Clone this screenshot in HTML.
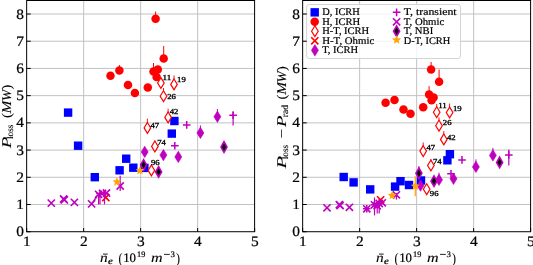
<!DOCTYPE html>
<html><head><meta charset="utf-8"><style>
html,body{margin:0;padding:0;background:#fff;}
svg{display:block;will-change:transform;}
text{text-rendering:geometricPrecision;font-family:"Liberation Serif",serif;fill:#000;stroke:#000;stroke-width:0.3px;}
.tl{font-size:14.4px;stroke-width:0.22px;}
.al{font-size:13.2px;stroke-width:0.1px;}
.lg{font-size:10.2px;stroke-width:0.2px;}
.ann{font-size:7.7px;stroke-width:0.32px;}
.grid{stroke:#c2c2c2;stroke-width:1;}
.tick{stroke:#000;stroke-width:1;}
</style></head><body>
<svg width="533" height="265" viewBox="0 0 533 265">
<rect width="533" height="265" fill="#fff"/>
<line x1="83.65" y1="0.5" x2="83.65" y2="231.72" class="grid"/>
<line x1="140.65" y1="0.5" x2="140.65" y2="231.72" class="grid"/>
<line x1="197.65" y1="0.5" x2="197.65" y2="231.72" class="grid"/>
<line x1="26.65" y1="204.50" x2="254.6" y2="204.50" class="grid"/>
<line x1="26.65" y1="177.29" x2="254.6" y2="177.29" class="grid"/>
<line x1="26.65" y1="150.07" x2="254.6" y2="150.07" class="grid"/>
<line x1="26.65" y1="122.86" x2="254.6" y2="122.86" class="grid"/>
<line x1="26.65" y1="95.65" x2="254.6" y2="95.65" class="grid"/>
<line x1="26.65" y1="68.43" x2="254.6" y2="68.43" class="grid"/>
<line x1="26.65" y1="41.22" x2="254.6" y2="41.22" class="grid"/>
<line x1="26.65" y1="14.00" x2="254.6" y2="14.00" class="grid"/>
<line x1="359.65" y1="0.5" x2="359.65" y2="231.72" class="grid"/>
<line x1="416.65" y1="0.5" x2="416.65" y2="231.72" class="grid"/>
<line x1="473.65" y1="0.5" x2="473.65" y2="231.72" class="grid"/>
<line x1="302.65" y1="204.50" x2="530.6" y2="204.50" class="grid"/>
<line x1="302.65" y1="177.29" x2="530.6" y2="177.29" class="grid"/>
<line x1="302.65" y1="150.07" x2="530.6" y2="150.07" class="grid"/>
<line x1="302.65" y1="122.86" x2="530.6" y2="122.86" class="grid"/>
<line x1="302.65" y1="95.65" x2="530.6" y2="95.65" class="grid"/>
<line x1="302.65" y1="68.43" x2="530.6" y2="68.43" class="grid"/>
<line x1="302.65" y1="41.22" x2="530.6" y2="41.22" class="grid"/>
<line x1="302.65" y1="14.00" x2="530.6" y2="14.00" class="grid"/>
<rect x="63.90" y="108.40" width="8.4" height="8.4" fill="#0000ff"/>
<rect x="73.90" y="141.50" width="8.4" height="8.4" fill="#0000ff"/>
<rect x="90.60" y="173.00" width="8.4" height="8.4" fill="#0000ff"/>
<rect x="115.40" y="166.10" width="8.4" height="8.4" fill="#0000ff"/>
<rect x="122.00" y="154.50" width="8.4" height="8.4" fill="#0000ff"/>
<rect x="129.10" y="163.50" width="8.4" height="8.4" fill="#0000ff"/>
<rect x="140.20" y="163.70" width="8.4" height="8.4" fill="#0000ff"/>
<rect x="170.20" y="116.80" width="8.4" height="8.4" fill="#0000ff"/>
<rect x="167.60" y="129.40" width="8.4" height="8.4" fill="#0000ff"/>
<line x1="155.60" y1="11.60" x2="155.60" y2="18.80" stroke="#ff0000" stroke-width="1.0" stroke-opacity="1.0"/>
<line x1="119.40" y1="65.00" x2="119.40" y2="70.40" stroke="#ff0000" stroke-width="1.0" stroke-opacity="1.0"/>
<line x1="153.50" y1="63.00" x2="153.50" y2="71.50" stroke="#ff0000" stroke-width="1.0" stroke-opacity="1.0"/>
<line x1="163.70" y1="46.00" x2="163.70" y2="58.50" stroke="#ff0000" stroke-width="1.0" stroke-opacity="1.0"/>
<circle cx="155.60" cy="18.80" r="4.25" fill="#ff0000"/>
<circle cx="110.50" cy="75.70" r="4.25" fill="#ff0000"/>
<circle cx="119.40" cy="70.40" r="4.25" fill="#ff0000"/>
<circle cx="128.00" cy="84.90" r="4.25" fill="#ff0000"/>
<circle cx="134.90" cy="93.00" r="4.25" fill="#ff0000"/>
<circle cx="147.80" cy="87.40" r="4.25" fill="#ff0000"/>
<circle cx="153.50" cy="71.50" r="4.25" fill="#ff0000"/>
<circle cx="157.80" cy="69.50" r="4.25" fill="#ff0000"/>
<circle cx="156.60" cy="77.00" r="4.25" fill="#ff0000"/>
<circle cx="163.70" cy="58.50" r="4.25" fill="#ff0000"/>
<line x1="174.00" y1="75.50" x2="174.00" y2="84.40" stroke="#ff0000" stroke-width="1.0" stroke-opacity="0.9"/>
<line x1="163.50" y1="88.00" x2="163.50" y2="96.20" stroke="#ff0000" stroke-width="1.0" stroke-opacity="0.9"/>
<line x1="168.10" y1="108.60" x2="168.10" y2="117.40" stroke="#ff0000" stroke-width="1.0" stroke-opacity="0.9"/>
<line x1="147.40" y1="118.60" x2="147.40" y2="127.90" stroke="#ff0000" stroke-width="1.0" stroke-opacity="0.9"/>
<line x1="154.90" y1="140.80" x2="154.90" y2="146.40" stroke="#ff0000" stroke-width="1.0" stroke-opacity="0.9"/>
<path d="M160.90 77.60L164.20 83.00L160.90 88.40L157.60 83.00Z" fill="#fff" stroke="#ff0000" stroke-width="1.2"/>
<path d="M174.00 79.00L177.30 84.40L174.00 89.80L170.70 84.40Z" fill="#fff" stroke="#ff0000" stroke-width="1.2"/>
<path d="M163.50 90.80L166.80 96.20L163.50 101.60L160.20 96.20Z" fill="#fff" stroke="#ff0000" stroke-width="1.2"/>
<path d="M168.10 112.00L171.40 117.40L168.10 122.80L164.80 117.40Z" fill="#fff" stroke="#ff0000" stroke-width="1.2"/>
<path d="M147.40 122.50L150.70 127.90L147.40 133.30L144.10 127.90Z" fill="#fff" stroke="#ff0000" stroke-width="1.2"/>
<path d="M154.90 141.00L158.20 146.40L154.90 151.80L151.60 146.40Z" fill="#fff" stroke="#ff0000" stroke-width="1.2"/>
<path d="M151.40 165.00L154.70 170.40L151.40 175.80L148.10 170.40Z" fill="#fff" stroke="#ff0000" stroke-width="1.2"/>
<path d="M102.20 193.90L109.40 201.10M102.20 201.10L109.40 193.90" stroke="#ff0000" stroke-width="1.6" fill="none"/>
<line x1="217.40" y1="109.00" x2="217.40" y2="116.70" stroke="#bf00bf" stroke-width="1.0" stroke-opacity="1.0"/>
<line x1="200.40" y1="125.40" x2="200.40" y2="132.90" stroke="#bf00bf" stroke-width="1.0" stroke-opacity="1.0"/>
<path d="M217.40 111.00L220.90 116.70L217.40 122.40L213.90 116.70Z" fill="#bf00bf" stroke="#bf00bf" stroke-width="0.6"/>
<path d="M200.40 127.20L203.90 132.90L200.40 138.60L196.90 132.90Z" fill="#bf00bf" stroke="#bf00bf" stroke-width="0.6"/>
<path d="M144.70 146.20L148.20 151.90L144.70 157.60L141.20 151.90Z" fill="#bf00bf" stroke="#bf00bf" stroke-width="0.6"/>
<path d="M163.40 149.40L166.90 155.10L163.40 160.80L159.90 155.10Z" fill="#bf00bf" stroke="#bf00bf" stroke-width="0.6"/>
<path d="M178.30 151.20L181.80 156.90L178.30 162.60L174.80 156.90Z" fill="#bf00bf" stroke="#bf00bf" stroke-width="0.6"/>
<line x1="233.10" y1="111.40" x2="233.10" y2="115.20" stroke="#bf00bf" stroke-width="1.2" stroke-opacity="1.0"/>
<line x1="233.10" y1="115.20" x2="233.10" y2="125.60" stroke="#bf00bf" stroke-width="1.2" stroke-opacity="1.0"/>
<line x1="100.00" y1="193.50" x2="100.00" y2="204.30" stroke="#bf00bf" stroke-width="1.2" stroke-opacity="1.0"/>
<line x1="104.50" y1="193.80" x2="104.50" y2="204.30" stroke="#bf00bf" stroke-width="1.2" stroke-opacity="1.0"/>
<path d="M182.90 124.90H190.50M186.70 121.10V128.70" stroke="#bf00bf" stroke-width="1.5" fill="none"/>
<path d="M171.00 145.80H178.60M174.80 142.00V149.60" stroke="#bf00bf" stroke-width="1.5" fill="none"/>
<path d="M229.30 115.20H236.90M233.10 111.40V119.00" stroke="#bf00bf" stroke-width="1.5" fill="none"/>
<path d="M96.20 193.50H103.80M100.00 189.70V197.30" stroke="#bf00bf" stroke-width="1.5" fill="none"/>
<path d="M100.70 193.80H108.30M104.50 190.00V197.60" stroke="#bf00bf" stroke-width="1.5" fill="none"/>
<line x1="120.20" y1="175.80" x2="120.20" y2="186.00" stroke="#bf00bf" stroke-width="1.2" stroke-opacity="1.0"/>
<line x1="120.20" y1="186.00" x2="120.20" y2="191.00" stroke="#bf00bf" stroke-width="1.2" stroke-opacity="1.0"/>
<line x1="98.60" y1="194.30" x2="98.60" y2="204.60" stroke="#bf00bf" stroke-width="1.2" stroke-opacity="1.0"/>
<path d="M47.70 199.50L54.90 206.70M47.70 206.70L54.90 199.50" stroke="#bf00bf" stroke-width="1.6" fill="none"/>
<path d="M60.00 195.40L67.20 202.60M60.00 202.60L67.20 195.40" stroke="#bf00bf" stroke-width="1.6" fill="none"/>
<path d="M60.80 196.30L68.00 203.50M60.80 203.50L68.00 196.30" stroke="#bf00bf" stroke-width="1.6" fill="none"/>
<path d="M70.80 198.80L78.00 206.00M70.80 206.00L78.00 198.80" stroke="#bf00bf" stroke-width="1.6" fill="none"/>
<path d="M88.00 200.30L95.20 207.50M88.00 207.50L95.20 200.30" stroke="#bf00bf" stroke-width="1.6" fill="none"/>
<path d="M116.60 182.40L123.80 189.60M116.60 189.60L123.80 182.40" stroke="#bf00bf" stroke-width="1.6" fill="none"/>
<path d="M95.00 190.70L102.20 197.90M95.00 197.90L102.20 190.70" stroke="#bf00bf" stroke-width="1.6" fill="none"/>
<path d="M98.90 189.70L106.10 196.90M98.90 196.90L106.10 189.70" stroke="#bf00bf" stroke-width="1.6" fill="none"/>
<path d="M102.90 189.40L110.10 196.60M102.90 196.60L110.10 189.40" stroke="#bf00bf" stroke-width="1.6" fill="none"/>
<line x1="91.6" y1="203.9" x2="97.0" y2="196.5" stroke="#bf00bf" stroke-width="1.4"/>
<path d="M143.60 159.60L146.60 164.90L143.60 170.20L140.60 164.90Z" fill="#000" stroke="#bf00bf" stroke-width="1.6"/>
<path d="M158.60 166.60L161.60 171.90L158.60 177.20L155.60 171.90Z" fill="#000" stroke="#bf00bf" stroke-width="1.6"/>
<path d="M224.00 141.70L227.00 147.00L224.00 152.30L221.00 147.00Z" fill="#000" stroke="#bf00bf" stroke-width="1.6"/>
<polygon points="116.90,177.20 118.14,180.19 121.37,180.45 118.91,182.55 119.66,185.70 116.90,184.02 114.14,185.70 114.89,182.55 112.43,180.45 115.66,180.19" fill="#ffa500"/>
<polygon points="140.00,165.90 141.24,168.89 144.47,169.15 142.01,171.25 142.76,174.40 140.00,172.72 137.24,174.40 137.99,171.25 135.53,169.15 138.76,168.89" fill="#ffa500"/>
<text x="162.50" y="79.70" class="ann" textLength="8.7" lengthAdjust="spacingAndGlyphs">11</text>
<text x="177.10" y="82.40" class="ann" textLength="8.7" lengthAdjust="spacingAndGlyphs">19</text>
<text x="167.20" y="98.60" class="ann" textLength="8.7" lengthAdjust="spacingAndGlyphs">26</text>
<text x="169.70" y="113.80" class="ann" textLength="8.7" lengthAdjust="spacingAndGlyphs">42</text>
<text x="150.50" y="127.50" class="ann" textLength="8.7" lengthAdjust="spacingAndGlyphs">47</text>
<text x="157.20" y="144.90" class="ann" textLength="8.7" lengthAdjust="spacingAndGlyphs">74</text>
<text x="150.90" y="164.60" class="ann" textLength="8.7" lengthAdjust="spacingAndGlyphs">96</text>
<rect x="339.50" y="172.80" width="8.4" height="8.4" fill="#0000ff"/>
<rect x="349.40" y="178.20" width="8.4" height="8.4" fill="#0000ff"/>
<rect x="366.00" y="185.20" width="8.4" height="8.4" fill="#0000ff"/>
<rect x="390.90" y="182.40" width="8.4" height="8.4" fill="#0000ff"/>
<rect x="396.30" y="177.00" width="8.4" height="8.4" fill="#0000ff"/>
<rect x="404.80" y="180.80" width="8.4" height="8.4" fill="#0000ff"/>
<rect x="416.80" y="176.30" width="8.4" height="8.4" fill="#0000ff"/>
<rect x="445.70" y="150.00" width="8.4" height="8.4" fill="#0000ff"/>
<rect x="443.20" y="156.10" width="8.4" height="8.4" fill="#0000ff"/>
<line x1="429.10" y1="86.20" x2="429.10" y2="94.40" stroke="#ff0000" stroke-width="1.0" stroke-opacity="1.0"/>
<line x1="431.10" y1="62.00" x2="431.10" y2="69.50" stroke="#ff0000" stroke-width="1.0" stroke-opacity="1.0"/>
<line x1="439.10" y1="69.50" x2="439.10" y2="81.70" stroke="#ff0000" stroke-width="1.0" stroke-opacity="1.0"/>
<circle cx="385.60" cy="102.80" r="4.25" fill="#ff0000"/>
<circle cx="394.50" cy="99.90" r="4.25" fill="#ff0000"/>
<circle cx="403.50" cy="109.50" r="4.25" fill="#ff0000"/>
<circle cx="410.50" cy="113.80" r="4.25" fill="#ff0000"/>
<circle cx="423.20" cy="107.30" r="4.25" fill="#ff0000"/>
<circle cx="429.10" cy="94.40" r="4.25" fill="#ff0000"/>
<circle cx="433.60" cy="97.40" r="4.25" fill="#ff0000"/>
<circle cx="431.60" cy="100.20" r="4.25" fill="#ff0000"/>
<circle cx="431.10" cy="69.50" r="4.25" fill="#ff0000"/>
<circle cx="439.10" cy="81.70" r="4.25" fill="#ff0000"/>
<line x1="436.70" y1="104.00" x2="436.70" y2="112.20" stroke="#ff0000" stroke-width="1.0" stroke-opacity="0.9"/>
<line x1="449.60" y1="103.50" x2="449.60" y2="112.50" stroke="#ff0000" stroke-width="1.0" stroke-opacity="0.9"/>
<line x1="439.00" y1="117.30" x2="439.00" y2="125.70" stroke="#ff0000" stroke-width="1.0" stroke-opacity="0.9"/>
<line x1="443.80" y1="131.00" x2="443.80" y2="139.40" stroke="#ff0000" stroke-width="1.0" stroke-opacity="0.9"/>
<line x1="423.20" y1="142.40" x2="423.20" y2="151.10" stroke="#ff0000" stroke-width="1.0" stroke-opacity="0.9"/>
<line x1="430.90" y1="159.00" x2="430.90" y2="165.50" stroke="#ff0000" stroke-width="1.0" stroke-opacity="0.9"/>
<path d="M436.70 106.80L440.00 112.20L436.70 117.60L433.40 112.20Z" fill="#fff" stroke="#ff0000" stroke-width="1.2"/>
<path d="M449.60 107.10L452.90 112.50L449.60 117.90L446.30 112.50Z" fill="#fff" stroke="#ff0000" stroke-width="1.2"/>
<path d="M439.00 120.30L442.30 125.70L439.00 131.10L435.70 125.70Z" fill="#fff" stroke="#ff0000" stroke-width="1.2"/>
<path d="M443.80 134.00L447.10 139.40L443.80 144.80L440.50 139.40Z" fill="#fff" stroke="#ff0000" stroke-width="1.2"/>
<path d="M423.20 145.70L426.50 151.10L423.20 156.50L419.90 151.10Z" fill="#fff" stroke="#ff0000" stroke-width="1.2"/>
<path d="M430.90 160.10L434.20 165.50L430.90 170.90L427.60 165.50Z" fill="#fff" stroke="#ff0000" stroke-width="1.2"/>
<path d="M426.70 183.80L430.00 189.20L426.70 194.60L423.40 189.20Z" fill="#fff" stroke="#ff0000" stroke-width="1.2"/>
<path d="M377.00 196.20L384.20 203.40M377.00 203.40L384.20 196.20" stroke="#ff0000" stroke-width="1.6" fill="none"/>
<line x1="439.00" y1="172.60" x2="439.00" y2="179.80" stroke="#bf00bf" stroke-width="1.0" stroke-opacity="1.0"/>
<line x1="475.90" y1="159.40" x2="475.90" y2="166.90" stroke="#bf00bf" stroke-width="1.0" stroke-opacity="1.0"/>
<line x1="492.90" y1="147.90" x2="492.90" y2="155.40" stroke="#bf00bf" stroke-width="1.0" stroke-opacity="1.0"/>
<path d="M420.50 179.90L424.00 185.60L420.50 191.30L417.00 185.60Z" fill="#bf00bf" stroke="#bf00bf" stroke-width="0.6"/>
<path d="M439.00 174.10L442.50 179.80L439.00 185.50L435.50 179.80Z" fill="#bf00bf" stroke="#bf00bf" stroke-width="0.6"/>
<path d="M453.50 173.00L457.00 178.70L453.50 184.40L450.00 178.70Z" fill="#bf00bf" stroke="#bf00bf" stroke-width="0.6"/>
<path d="M475.90 161.20L479.40 166.90L475.90 172.60L472.40 166.90Z" fill="#bf00bf" stroke="#bf00bf" stroke-width="0.6"/>
<path d="M492.90 149.70L496.40 155.40L492.90 161.10L489.40 155.40Z" fill="#bf00bf" stroke="#bf00bf" stroke-width="0.6"/>
<line x1="508.80" y1="149.40" x2="508.80" y2="154.90" stroke="#bf00bf" stroke-width="1.2" stroke-opacity="1.0"/>
<line x1="508.80" y1="154.90" x2="508.80" y2="165.40" stroke="#bf00bf" stroke-width="1.2" stroke-opacity="1.0"/>
<line x1="374.50" y1="197.50" x2="374.50" y2="204.80" stroke="#bf00bf" stroke-width="1.2" stroke-opacity="1.0"/>
<line x1="374.50" y1="204.80" x2="374.50" y2="215.40" stroke="#bf00bf" stroke-width="1.2" stroke-opacity="1.0"/>
<line x1="379.20" y1="203.50" x2="379.20" y2="213.40" stroke="#bf00bf" stroke-width="1.2" stroke-opacity="1.0"/>
<path d="M458.20 159.90H465.80M462.00 156.10V163.70" stroke="#bf00bf" stroke-width="1.5" fill="none"/>
<path d="M447.20 173.70H454.80M451.00 169.90V177.50" stroke="#bf00bf" stroke-width="1.5" fill="none"/>
<path d="M505.00 154.90H512.60M508.80 151.10V158.70" stroke="#bf00bf" stroke-width="1.5" fill="none"/>
<path d="M363.00 208.80H370.60M366.80 205.00V212.60" stroke="#bf00bf" stroke-width="1.5" fill="none"/>
<path d="M370.70 204.80H378.30M374.50 201.00V208.60" stroke="#bf00bf" stroke-width="1.5" fill="none"/>
<path d="M375.40 203.50H383.00M379.20 199.70V207.30" stroke="#bf00bf" stroke-width="1.5" fill="none"/>
<line x1="396.40" y1="192.90" x2="396.40" y2="194.80" stroke="#bf00bf" stroke-width="1.2" stroke-opacity="1.0"/>
<line x1="396.40" y1="194.80" x2="396.40" y2="199.50" stroke="#bf00bf" stroke-width="1.2" stroke-opacity="1.0"/>
<line x1="377.20" y1="205.80" x2="377.20" y2="213.40" stroke="#bf00bf" stroke-width="1.2" stroke-opacity="1.0"/>
<path d="M323.40 204.20L330.60 211.40M323.40 211.40L330.60 204.20" stroke="#bf00bf" stroke-width="1.6" fill="none"/>
<path d="M335.70 201.00L342.90 208.20M335.70 208.20L342.90 201.00" stroke="#bf00bf" stroke-width="1.6" fill="none"/>
<path d="M336.50 201.90L343.70 209.10M336.50 209.10L343.70 201.90" stroke="#bf00bf" stroke-width="1.6" fill="none"/>
<path d="M345.80 203.70L353.00 210.90M345.80 210.90L353.00 203.70" stroke="#bf00bf" stroke-width="1.6" fill="none"/>
<path d="M363.20 205.20L370.40 212.40M363.20 212.40L370.40 205.20" stroke="#bf00bf" stroke-width="1.6" fill="none"/>
<path d="M392.80 191.20L400.00 198.40M392.80 198.40L400.00 191.20" stroke="#bf00bf" stroke-width="1.6" fill="none"/>
<path d="M370.90 201.20L378.10 208.40M370.90 208.40L378.10 201.20" stroke="#bf00bf" stroke-width="1.6" fill="none"/>
<path d="M375.60 199.90L382.80 207.10M375.60 207.10L382.80 199.90" stroke="#bf00bf" stroke-width="1.6" fill="none"/>
<path d="M378.70 199.20L385.90 206.40M378.70 206.40L385.90 199.20" stroke="#bf00bf" stroke-width="1.6" fill="none"/>
<path d="M373.60 202.20L380.80 209.40M373.60 209.40L380.80 202.20" stroke="#bf00bf" stroke-width="1.6" fill="none"/>
<line x1="418.90" y1="166.00" x2="418.90" y2="173.30" stroke="#bf00bf" stroke-width="1.0" stroke-opacity="1.0"/>
<path d="M418.90 168.00L421.90 173.30L418.90 178.60L415.90 173.30Z" fill="#000" stroke="#bf00bf" stroke-width="1.6"/>
<path d="M434.00 175.90L437.00 181.20L434.00 186.50L431.00 181.20Z" fill="#000" stroke="#bf00bf" stroke-width="1.6"/>
<path d="M499.60 157.10L502.60 162.40L499.60 167.70L496.60 162.40Z" fill="#000" stroke="#bf00bf" stroke-width="1.6"/>
<line x1="415.30" y1="176.20" x2="415.30" y2="186.20" stroke="#ffa500" stroke-width="1.2" stroke-opacity="1.0"/>
<line x1="415.30" y1="186.20" x2="415.30" y2="196.20" stroke="#ffa500" stroke-width="1.2" stroke-opacity="1.0"/>
<polygon points="392.20,190.80 393.44,193.79 396.67,194.05 394.21,196.15 394.96,199.30 392.20,197.62 389.44,199.30 390.19,196.15 387.73,194.05 390.96,193.79" fill="#ffa500"/>
<polygon points="415.30,181.50 416.54,184.49 419.77,184.75 417.31,186.85 418.06,190.00 415.30,188.31 412.54,190.00 413.29,186.85 410.83,184.75 414.06,184.49" fill="#ffa500"/>
<text x="438.20" y="108.20" class="ann" textLength="8.7" lengthAdjust="spacingAndGlyphs">11</text>
<text x="453.00" y="110.60" class="ann" textLength="8.7" lengthAdjust="spacingAndGlyphs">19</text>
<text x="442.80" y="125.40" class="ann" textLength="8.7" lengthAdjust="spacingAndGlyphs">26</text>
<text x="447.00" y="140.40" class="ann" textLength="8.7" lengthAdjust="spacingAndGlyphs">42</text>
<text x="426.40" y="150.00" class="ann" textLength="8.7" lengthAdjust="spacingAndGlyphs">47</text>
<text x="432.90" y="163.80" class="ann" textLength="8.7" lengthAdjust="spacingAndGlyphs">74</text>
<text x="429.80" y="196.10" class="ann" textLength="8.7" lengthAdjust="spacingAndGlyphs">96</text>
<rect x="306.6" y="4.5" width="153.9" height="54.0" rx="2.6" ry="2.6" fill="#fff" fill-opacity="0.8" stroke="#d4d4d4" stroke-width="1"/>
<rect x="310.50" y="8.15" width="8.4" height="8.4" fill="#0000ff"/>
<circle cx="314.70" cy="21.80" r="4.25" fill="#ff0000"/>
<path d="M314.90 25.80L318.20 31.20L314.90 36.60L311.60 31.20Z" fill="#fff" stroke="#ff0000" stroke-width="1.2"/>
<path d="M311.20 37.20L318.40 44.40M311.20 44.40L318.40 37.20" stroke="#ff0000" stroke-width="1.6" fill="none"/>
<path d="M314.90 44.60L318.40 50.30L314.90 56.00L311.40 50.30Z" fill="#bf00bf" stroke="#bf00bf" stroke-width="0.6"/>
<path d="M392.80 12.35H400.40M396.60 8.55V16.15" stroke="#bf00bf" stroke-width="1.5" fill="none"/>
<path d="M393.00 18.20L400.20 25.40M393.00 25.40L400.20 18.20" stroke="#bf00bf" stroke-width="1.6" fill="none"/>
<path d="M396.60 25.90L399.60 31.20L396.60 36.50L393.60 31.20Z" fill="#000" stroke="#bf00bf" stroke-width="1.6"/>
<polygon points="396.60,35.30 397.84,38.29 401.07,38.55 398.61,40.65 399.36,43.80 396.60,42.12 393.84,43.80 394.59,40.65 392.13,38.55 395.36,38.29" fill="#ffa500"/>
<text x="322.2" y="15.30" class="lg" textLength="37.6" lengthAdjust="spacingAndGlyphs">D, ICRH</text>
<text x="322.2" y="24.80" class="lg" textLength="38.0" lengthAdjust="spacingAndGlyphs">H, ICRH</text>
<text x="322.2" y="34.30" class="lg" textLength="47.0" lengthAdjust="spacingAndGlyphs">H-T, ICRH</text>
<text x="322.2" y="43.80" class="lg" textLength="52.0" lengthAdjust="spacingAndGlyphs">H-T, Ohmic</text>
<text x="322.2" y="53.30" class="lg" textLength="36.0" lengthAdjust="spacingAndGlyphs">T, ICRH</text>
<text x="403.8" y="15.30" class="lg" textLength="52.8" lengthAdjust="spacingAndGlyphs">T, transient</text>
<text x="403.8" y="24.80" class="lg" textLength="40.4" lengthAdjust="spacingAndGlyphs">T, Ohmic</text>
<text x="403.8" y="34.30" class="lg" textLength="29.4" lengthAdjust="spacingAndGlyphs">T, NBI</text>
<text x="403.8" y="43.80" class="lg" textLength="46.4" lengthAdjust="spacingAndGlyphs">D-T, ICRH</text>
<line x1="26.65" y1="231.72" x2="30.75" y2="231.72" class="tick"/>
<line x1="26.65" y1="204.50" x2="30.75" y2="204.50" class="tick"/>
<line x1="26.65" y1="177.29" x2="30.75" y2="177.29" class="tick"/>
<line x1="26.65" y1="150.07" x2="30.75" y2="150.07" class="tick"/>
<line x1="26.65" y1="122.86" x2="30.75" y2="122.86" class="tick"/>
<line x1="26.65" y1="95.65" x2="30.75" y2="95.65" class="tick"/>
<line x1="26.65" y1="68.43" x2="30.75" y2="68.43" class="tick"/>
<line x1="26.65" y1="41.22" x2="30.75" y2="41.22" class="tick"/>
<line x1="26.65" y1="14.00" x2="30.75" y2="14.00" class="tick"/>
<line x1="26.65" y1="231.72" x2="26.65" y2="228.02" class="tick"/>
<line x1="83.65" y1="231.72" x2="83.65" y2="228.02" class="tick"/>
<line x1="140.65" y1="231.72" x2="140.65" y2="228.02" class="tick"/>
<line x1="197.65" y1="231.72" x2="197.65" y2="228.02" class="tick"/>
<line x1="254.65" y1="231.72" x2="254.65" y2="228.02" class="tick"/>
<rect x="26.65" y="0.5" width="227.95" height="231.22" fill="none" stroke="#000" stroke-width="1"/>
<text x="24.05" y="236.22" class="tl" text-anchor="end" textLength="7.7" lengthAdjust="spacingAndGlyphs">0</text>
<text x="24.05" y="209.00" class="tl" text-anchor="end" textLength="7.7" lengthAdjust="spacingAndGlyphs">1</text>
<text x="24.05" y="181.79" class="tl" text-anchor="end" textLength="7.7" lengthAdjust="spacingAndGlyphs">2</text>
<text x="24.05" y="154.57" class="tl" text-anchor="end" textLength="7.7" lengthAdjust="spacingAndGlyphs">3</text>
<text x="24.05" y="127.36" class="tl" text-anchor="end" textLength="7.7" lengthAdjust="spacingAndGlyphs">4</text>
<text x="24.05" y="100.15" class="tl" text-anchor="end" textLength="7.7" lengthAdjust="spacingAndGlyphs">5</text>
<text x="24.05" y="72.93" class="tl" text-anchor="end" textLength="7.7" lengthAdjust="spacingAndGlyphs">6</text>
<text x="24.05" y="45.72" class="tl" text-anchor="end" textLength="7.7" lengthAdjust="spacingAndGlyphs">7</text>
<text x="24.05" y="18.50" class="tl" text-anchor="end" textLength="7.7" lengthAdjust="spacingAndGlyphs">8</text>
<text x="26.95" y="245.8" class="tl" text-anchor="middle" textLength="7.7" lengthAdjust="spacingAndGlyphs">1</text>
<text x="83.95" y="245.8" class="tl" text-anchor="middle" textLength="7.7" lengthAdjust="spacingAndGlyphs">2</text>
<text x="140.95" y="245.8" class="tl" text-anchor="middle" textLength="7.7" lengthAdjust="spacingAndGlyphs">3</text>
<text x="197.95" y="245.8" class="tl" text-anchor="middle" textLength="7.7" lengthAdjust="spacingAndGlyphs">4</text>
<text x="254.95" y="245.8" class="tl" text-anchor="middle" textLength="7.7" lengthAdjust="spacingAndGlyphs">5</text>
<line x1="302.65" y1="231.72" x2="306.75" y2="231.72" class="tick"/>
<line x1="302.65" y1="204.50" x2="306.75" y2="204.50" class="tick"/>
<line x1="302.65" y1="177.29" x2="306.75" y2="177.29" class="tick"/>
<line x1="302.65" y1="150.07" x2="306.75" y2="150.07" class="tick"/>
<line x1="302.65" y1="122.86" x2="306.75" y2="122.86" class="tick"/>
<line x1="302.65" y1="95.65" x2="306.75" y2="95.65" class="tick"/>
<line x1="302.65" y1="68.43" x2="306.75" y2="68.43" class="tick"/>
<line x1="302.65" y1="41.22" x2="306.75" y2="41.22" class="tick"/>
<line x1="302.65" y1="14.00" x2="306.75" y2="14.00" class="tick"/>
<line x1="302.65" y1="231.72" x2="302.65" y2="228.02" class="tick"/>
<line x1="359.65" y1="231.72" x2="359.65" y2="228.02" class="tick"/>
<line x1="416.65" y1="231.72" x2="416.65" y2="228.02" class="tick"/>
<line x1="473.65" y1="231.72" x2="473.65" y2="228.02" class="tick"/>
<line x1="530.65" y1="231.72" x2="530.65" y2="228.02" class="tick"/>
<rect x="302.65" y="0.5" width="227.95000000000005" height="231.22" fill="none" stroke="#000" stroke-width="1"/>
<text x="300.05" y="236.22" class="tl" text-anchor="end" textLength="7.7" lengthAdjust="spacingAndGlyphs">0</text>
<text x="300.05" y="209.00" class="tl" text-anchor="end" textLength="7.7" lengthAdjust="spacingAndGlyphs">1</text>
<text x="300.05" y="181.79" class="tl" text-anchor="end" textLength="7.7" lengthAdjust="spacingAndGlyphs">2</text>
<text x="300.05" y="154.57" class="tl" text-anchor="end" textLength="7.7" lengthAdjust="spacingAndGlyphs">3</text>
<text x="300.05" y="127.36" class="tl" text-anchor="end" textLength="7.7" lengthAdjust="spacingAndGlyphs">4</text>
<text x="300.05" y="100.15" class="tl" text-anchor="end" textLength="7.7" lengthAdjust="spacingAndGlyphs">5</text>
<text x="300.05" y="72.93" class="tl" text-anchor="end" textLength="7.7" lengthAdjust="spacingAndGlyphs">6</text>
<text x="300.05" y="45.72" class="tl" text-anchor="end" textLength="7.7" lengthAdjust="spacingAndGlyphs">7</text>
<text x="300.05" y="18.50" class="tl" text-anchor="end" textLength="7.7" lengthAdjust="spacingAndGlyphs">8</text>
<text x="302.95" y="245.8" class="tl" text-anchor="middle" textLength="7.7" lengthAdjust="spacingAndGlyphs">1</text>
<text x="359.95" y="245.8" class="tl" text-anchor="middle" textLength="7.7" lengthAdjust="spacingAndGlyphs">2</text>
<text x="416.95" y="245.8" class="tl" text-anchor="middle" textLength="7.7" lengthAdjust="spacingAndGlyphs">3</text>
<text x="473.95" y="245.8" class="tl" text-anchor="middle" textLength="7.7" lengthAdjust="spacingAndGlyphs">4</text>
<text x="530.95" y="245.8" class="tl" text-anchor="middle" textLength="7.7" lengthAdjust="spacingAndGlyphs">5</text>
<g transform="translate(0,0)">
<text x="100.1" y="261.8" class="al" style="font-size:13.5px;stroke-width:0.1px;font-style:italic;" textLength="7.7" lengthAdjust="spacingAndGlyphs">n</text>
<line x1="103.0" y1="254.1" x2="107.7" y2="254.1" stroke="#000" stroke-width="0.9"/>
<text x="108.1" y="263.9" class="al" style="font-size:9.3px;stroke-width:0.22px;font-style:italic;" textLength="4.8" lengthAdjust="spacingAndGlyphs">e</text>
<text x="118.6" y="262.7" class="al" style="font-size:14.5px;stroke-width:0.1px;" textLength="4.0" lengthAdjust="spacingAndGlyphs">(</text>
<text x="123.2" y="261.8" class="al" style="font-size:12.9px;stroke-width:0.22px;" textLength="12.8" lengthAdjust="spacingAndGlyphs">10</text>
<text x="137.0" y="256.5" class="al" style="font-size:8.4px;stroke-width:0.22px;" textLength="8.3" lengthAdjust="spacingAndGlyphs">19</text>
<text x="150.9" y="261.8" class="al" style="font-size:13.5px;stroke-width:0.1px;font-style:italic;" textLength="11.6" lengthAdjust="spacingAndGlyphs">m</text>
<line x1="164.0" y1="254.4" x2="169.8" y2="254.4" stroke="#000" stroke-width="0.85"/>
<text x="170.4" y="257.0" class="al" style="font-size:8.4px;stroke-width:0.22px;" textLength="4.4" lengthAdjust="spacingAndGlyphs">3</text>
<text x="176.0" y="262.7" class="al" style="font-size:14.5px;stroke-width:0.1px;" textLength="4.0" lengthAdjust="spacingAndGlyphs">)</text>
</g>
<g transform="translate(276,0)">
<text x="100.1" y="261.8" class="al" style="font-size:13.5px;stroke-width:0.1px;font-style:italic;" textLength="7.7" lengthAdjust="spacingAndGlyphs">n</text>
<line x1="103.0" y1="254.1" x2="107.7" y2="254.1" stroke="#000" stroke-width="0.9"/>
<text x="108.1" y="263.9" class="al" style="font-size:9.3px;stroke-width:0.22px;font-style:italic;" textLength="4.8" lengthAdjust="spacingAndGlyphs">e</text>
<text x="118.6" y="262.7" class="al" style="font-size:14.5px;stroke-width:0.1px;" textLength="4.0" lengthAdjust="spacingAndGlyphs">(</text>
<text x="123.2" y="261.8" class="al" style="font-size:12.9px;stroke-width:0.22px;" textLength="12.8" lengthAdjust="spacingAndGlyphs">10</text>
<text x="137.0" y="256.5" class="al" style="font-size:8.4px;stroke-width:0.22px;" textLength="8.3" lengthAdjust="spacingAndGlyphs">19</text>
<text x="150.9" y="261.8" class="al" style="font-size:13.5px;stroke-width:0.1px;font-style:italic;" textLength="11.6" lengthAdjust="spacingAndGlyphs">m</text>
<line x1="164.0" y1="254.4" x2="169.8" y2="254.4" stroke="#000" stroke-width="0.85"/>
<text x="170.4" y="257.0" class="al" style="font-size:8.4px;stroke-width:0.22px;" textLength="4.4" lengthAdjust="spacingAndGlyphs">3</text>
<text x="176.0" y="262.7" class="al" style="font-size:14.5px;stroke-width:0.1px;" textLength="4.0" lengthAdjust="spacingAndGlyphs">)</text>
</g>
<g transform="rotate(-90)">
<text x="-148.20" y="10.80" class="al" style="font-size:13.4px;font-style:italic;" textLength="11.60" lengthAdjust="spacingAndGlyphs">P</text>
<text x="-139.00" y="12.50" class="al" style="font-size:9.3px;" textLength="14.40" lengthAdjust="spacingAndGlyphs">loss</text>
<text x="-118.00" y="10.80" class="al" style="font-size:13.4px;" textLength="5.00" lengthAdjust="spacingAndGlyphs">(</text>
<text x="-113.40" y="10.80" class="al" style="font-size:13.4px;font-style:italic;" textLength="12.80" lengthAdjust="spacingAndGlyphs">M</text>
<text x="-101.00" y="10.80" class="al" style="font-size:13.4px;font-style:italic;" textLength="11.40" lengthAdjust="spacingAndGlyphs">W</text>
<text x="-89.60" y="10.80" class="al" style="font-size:13.4px;" textLength="4.80" lengthAdjust="spacingAndGlyphs">)</text>
<text x="-168.40" y="286.40" class="al" style="font-size:13.4px;font-style:italic;" textLength="12.40" lengthAdjust="spacingAndGlyphs">P</text>
<text x="-159.30" y="288.10" class="al" style="font-size:9.3px;" textLength="14.40" lengthAdjust="spacingAndGlyphs">loss</text>
<text x="-138.20" y="286.40" class="al" style="font-size:13.4px;" textLength="9.40" lengthAdjust="spacingAndGlyphs">−</text>
<text x="-127.00" y="286.40" class="al" style="font-size:13.4px;font-style:italic;" textLength="11.40" lengthAdjust="spacingAndGlyphs">P</text>
<text x="-117.20" y="288.10" class="al" style="font-size:9.3px;" textLength="12.30" lengthAdjust="spacingAndGlyphs">rad</text>
<text x="-99.40" y="286.40" class="al" style="font-size:13.4px;" textLength="5.00" lengthAdjust="spacingAndGlyphs">(</text>
<text x="-94.80" y="286.40" class="al" style="font-size:13.4px;font-style:italic;" textLength="12.80" lengthAdjust="spacingAndGlyphs">M</text>
<text x="-82.40" y="286.40" class="al" style="font-size:13.4px;font-style:italic;" textLength="11.40" lengthAdjust="spacingAndGlyphs">W</text>
<text x="-71.00" y="286.40" class="al" style="font-size:13.4px;" textLength="4.80" lengthAdjust="spacingAndGlyphs">)</text>
</g>
</svg>
</body></html>
